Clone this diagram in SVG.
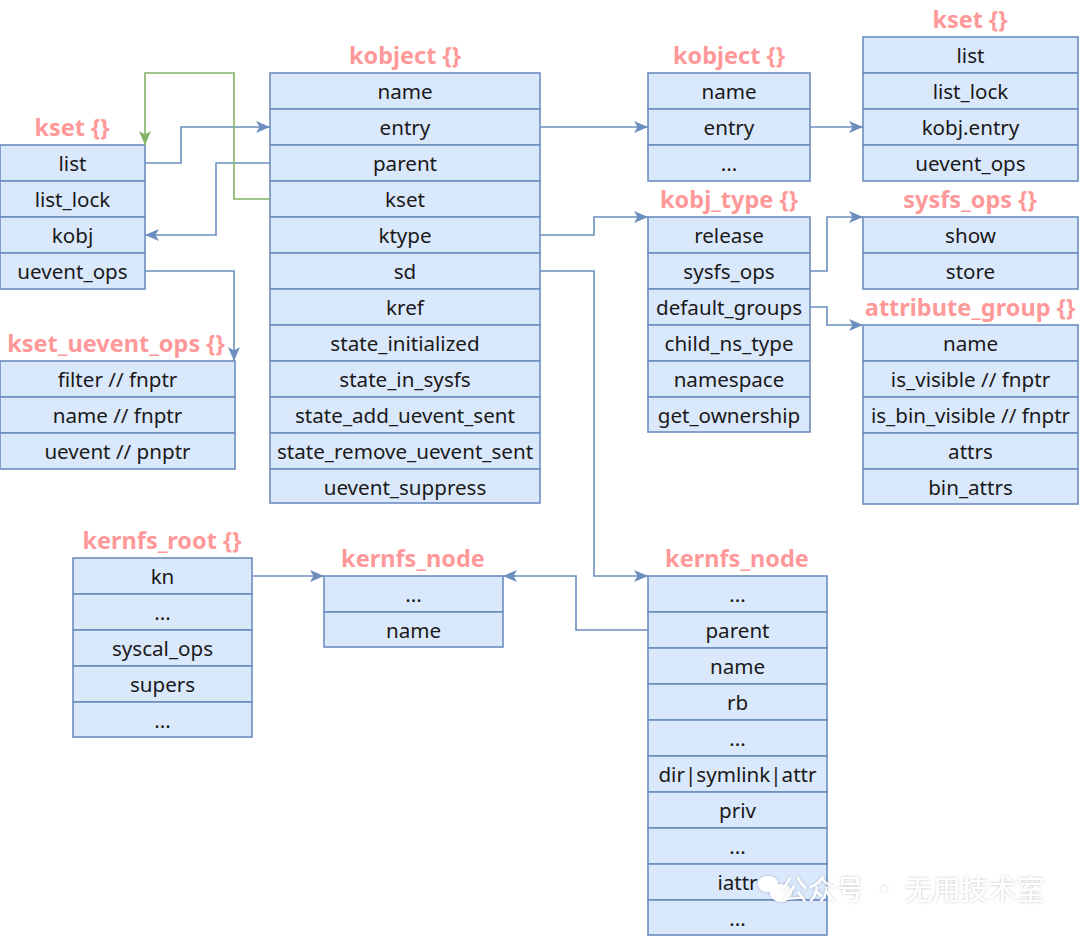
<svg xmlns="http://www.w3.org/2000/svg" width="1080" height="936" viewBox="0 0 1080 936">
<style>
.r{fill:#dae8fc;stroke:#6c8ebf;stroke-width:1.6}
.t{font-family:"Noto Sans","DejaVu Sans",sans-serif;font-size:20.6px;fill:#1a1a1a;text-anchor:middle;dominant-baseline:central}
.h{font-family:"Noto Sans","DejaVu Sans",sans-serif;font-size:23.5px;font-weight:bold;fill:#ff9999;text-anchor:middle;dominant-baseline:central}
.c{fill:none;stroke:#6c8ebf;stroke-width:1.6;marker-end:url(#ab)}
.g{fill:none;stroke:#82b366;stroke-width:1.6;marker-end:url(#ag)}
.wm{font-family:"Noto Sans CJK SC",sans-serif;font-size:28px;fill:#ffffff;filter:url(#sh)}
</style>
<defs>
<marker id="ab" viewBox="0 0 14 12" refX="14" refY="6" markerWidth="14" markerHeight="12" markerUnits="userSpaceOnUse" orient="auto"><path d="M0,0 L14,6 L0,12 L3.5,6 Z" fill="#6c8ebf"/></marker>
<marker id="ag" viewBox="0 0 14 12" refX="14" refY="6" markerWidth="14" markerHeight="12" markerUnits="userSpaceOnUse" orient="auto"><path d="M0,0 L14,6 L0,12 L3.5,6 Z" fill="#82b366"/></marker>
<filter id="sh" x="-20%" y="-50%" width="140%" height="200%"><feGaussianBlur in="SourceAlpha" stdDeviation="1.5"/><feComponentTransfer><feFuncA type="linear" slope="0.25"/></feComponentTransfer><feMerge><feMergeNode/><feMergeNode in="SourceGraphic"/></feMerge></filter>
<filter id="bl"><feGaussianBlur stdDeviation="12"/></filter>
</defs>
<rect width="1080" height="936" fill="#ffffff"/>

<g id="kset_left">
<text class="h" x="72" y="127">kset {}</text>
<rect class="r" x="0" y="145" width="145" height="36"/><text class="t" x="72.5" y="163">list</text>
<rect class="r" x="0" y="181" width="145" height="36"/><text class="t" x="72.5" y="199">list_lock</text>
<rect class="r" x="0" y="217" width="145" height="36"/><text class="t" x="72.5" y="235">kobj</text>
<rect class="r" x="0" y="253" width="145" height="36"/><text class="t" x="72.5" y="271">uevent_ops</text>
</g>

<g id="kset_uevent_ops">
<text class="h" x="116" y="343">kset_uevent_ops {}</text>
<rect class="r" x="0" y="361" width="235" height="36"/><text class="t" x="117.5" y="379">filter // fnptr</text>
<rect class="r" x="0" y="397" width="235" height="36"/><text class="t" x="117.5" y="415">name // fnptr</text>
<rect class="r" x="0" y="433" width="235" height="36"/><text class="t" x="117.5" y="451">uevent // pnptr</text>
</g>

<g id="kobject_main">
<text class="h" x="405" y="55">kobject {}</text>
<rect class="r" x="270" y="73" width="270" height="36"/><text class="t" x="405" y="91">name</text>
<rect class="r" x="270" y="109" width="270" height="36"/><text class="t" x="405" y="127">entry</text>
<rect class="r" x="270" y="145" width="270" height="36"/><text class="t" x="405" y="163">parent</text>
<rect class="r" x="270" y="181" width="270" height="36"/><text class="t" x="405" y="199">kset</text>
<rect class="r" x="270" y="217" width="270" height="36"/><text class="t" x="405" y="235">ktype</text>
<rect class="r" x="270" y="253" width="270" height="36"/><text class="t" x="405" y="271">sd</text>
<rect class="r" x="270" y="289" width="270" height="36"/><text class="t" x="405" y="307">kref</text>
<rect class="r" x="270" y="325" width="270" height="36"/><text class="t" x="405" y="343">state_initialized</text>
<rect class="r" x="270" y="361" width="270" height="36"/><text class="t" x="405" y="379">state_in_sysfs</text>
<rect class="r" x="270" y="397" width="270" height="36"/><text class="t" x="405" y="415">state_add_uevent_sent</text>
<rect class="r" x="270" y="433" width="270" height="36"/><text class="t" x="405" y="451">state_remove_uevent_sent</text>
<rect class="r" x="270" y="469" width="270" height="34"/><text class="t" x="405" y="487">uevent_suppress</text>
</g>

<g id="kobject_right">
<text class="h" x="729" y="55">kobject {}</text>
<rect class="r" x="648" y="73" width="162" height="36"/><text class="t" x="729" y="91">name</text>
<rect class="r" x="648" y="109" width="162" height="36"/><text class="t" x="729" y="127">entry</text>
<rect class="r" x="648" y="145" width="162" height="36"/><text class="t" x="729" y="163">...</text>
</g>

<g id="kset_right">
<text class="h" x="970" y="19">kset {}</text>
<rect class="r" x="863" y="37" width="215" height="36"/><text class="t" x="970.5" y="55">list</text>
<rect class="r" x="863" y="73" width="215" height="36"/><text class="t" x="970.5" y="91">list_lock</text>
<rect class="r" x="863" y="109" width="215" height="36"/><text class="t" x="970.5" y="127">kobj.entry</text>
<rect class="r" x="863" y="145" width="215" height="36"/><text class="t" x="970.5" y="163">uevent_ops</text>
</g>

<g id="kobj_type">
<text class="h" x="729" y="199">kobj_type {}</text>
<rect class="r" x="648" y="217" width="162" height="36"/><text class="t" x="729" y="235">release</text>
<rect class="r" x="648" y="253" width="162" height="36"/><text class="t" x="729" y="271">sysfs_ops</text>
<rect class="r" x="648" y="289" width="162" height="36"/><text class="t" x="729" y="307">default_groups</text>
<rect class="r" x="648" y="325" width="162" height="36"/><text class="t" x="729" y="343">child_ns_type</text>
<rect class="r" x="648" y="361" width="162" height="36"/><text class="t" x="729" y="379">namespace</text>
<rect class="r" x="648" y="397" width="162" height="35"/><text class="t" x="729" y="415">get_ownership</text>
</g>

<g id="sysfs_ops">
<text class="h" x="970" y="199">sysfs_ops {}</text>
<rect class="r" x="863" y="217" width="215" height="36"/><text class="t" x="970.5" y="235">show</text>
<rect class="r" x="863" y="253" width="215" height="36"/><text class="t" x="970.5" y="271">store</text>
</g>

<g id="attribute_group">
<text class="h" x="970" y="307">attribute_group {}</text>
<rect class="r" x="863" y="325" width="215" height="36"/><text class="t" x="970.5" y="343">name</text>
<rect class="r" x="863" y="361" width="215" height="36"/><text class="t" x="970.5" y="379">is_visible // fnptr</text>
<rect class="r" x="863" y="397" width="215" height="36"/><text class="t" x="970.5" y="415">is_bin_visible // fnptr</text>
<rect class="r" x="863" y="433" width="215" height="36"/><text class="t" x="970.5" y="451">attrs</text>
<rect class="r" x="863" y="469" width="215" height="35"/><text class="t" x="970.5" y="487">bin_attrs</text>
</g>

<g id="kernfs_root">
<text class="h" x="162" y="540">kernfs_root {}</text>
<rect class="r" x="73" y="558" width="179" height="36"/><text class="t" x="162.5" y="576">kn</text>
<rect class="r" x="73" y="594" width="179" height="36"/><text class="t" x="162.5" y="612">...</text>
<rect class="r" x="73" y="630" width="179" height="36"/><text class="t" x="162.5" y="648">syscal_ops</text>
<rect class="r" x="73" y="666" width="179" height="36"/><text class="t" x="162.5" y="684">supers</text>
<rect class="r" x="73" y="702" width="179" height="35"/><text class="t" x="162.5" y="720">...</text>
</g>

<g id="kernfs_node_mid">
<text class="h" x="413" y="558">kernfs_node</text>
<rect class="r" x="324" y="576" width="179" height="36"/><text class="t" x="413.5" y="594">...</text>
<rect class="r" x="324" y="612" width="179" height="35"/><text class="t" x="413.5" y="630">name</text>
</g>

<g id="kernfs_node_right">
<text class="h" x="737" y="558">kernfs_node</text>
<rect class="r" x="648" y="576" width="179" height="36"/><text class="t" x="737.5" y="594">...</text>
<rect class="r" x="648" y="612" width="179" height="36"/><text class="t" x="737.5" y="630">parent</text>
<rect class="r" x="648" y="648" width="179" height="36"/><text class="t" x="737.5" y="666">name</text>
<rect class="r" x="648" y="684" width="179" height="36"/><text class="t" x="737.5" y="702">rb</text>
<rect class="r" x="648" y="720" width="179" height="36"/><text class="t" x="737.5" y="738">...</text>
<rect class="r" x="648" y="756" width="179" height="36"/><text class="t" x="737.5" y="774">dir|symlink|attr</text>
<rect class="r" x="648" y="792" width="179" height="36"/><text class="t" x="737.5" y="810">priv</text>
<rect class="r" x="648" y="828" width="179" height="36"/><text class="t" x="737.5" y="846">...</text>
<rect class="r" x="648" y="864" width="179" height="36"/><text class="t" x="737.5" y="882">iattr</text>
<rect class="r" x="648" y="900" width="179" height="35"/><text class="t" x="737.5" y="918">...</text>
</g>

<g id="connectors">
<path class="c" d="M145,163 H181 V127 H270"/>
<path class="c" d="M270,163 H216 V235 H145"/>
<path class="g" d="M270,199 H234 V73 H145 V145"/>
<path class="c" d="M145,271 H234 V361"/>
<path class="c" d="M540,127 H648"/>
<path class="c" d="M810,127 H863"/>
<path class="c" d="M540,235 H594 V217 H648"/>
<path class="c" d="M540,271 H594 V576 H648"/>
<path class="c" d="M810,271 H827 V217 H863"/>
<path class="c" d="M810,307 H827 V325 H863"/>
<path class="c" d="M252,576 H324"/>
<path class="c" d="M648,630 H576 V576 H503"/>
</g>

<g id="watermark">
<ellipse cx="955" cy="890" rx="115" ry="26" fill="#ffffff" opacity="0.6" filter="url(#bl)"/>
<g filter="url(#sh)" fill="#ffffff">
<ellipse cx="768" cy="884" rx="10" ry="8"/>
<ellipse cx="781" cy="893" rx="11" ry="9"/>
</g>
<text class="wm" x="780" y="900">公众号 · 无用技术室</text>
</g>
</svg>
